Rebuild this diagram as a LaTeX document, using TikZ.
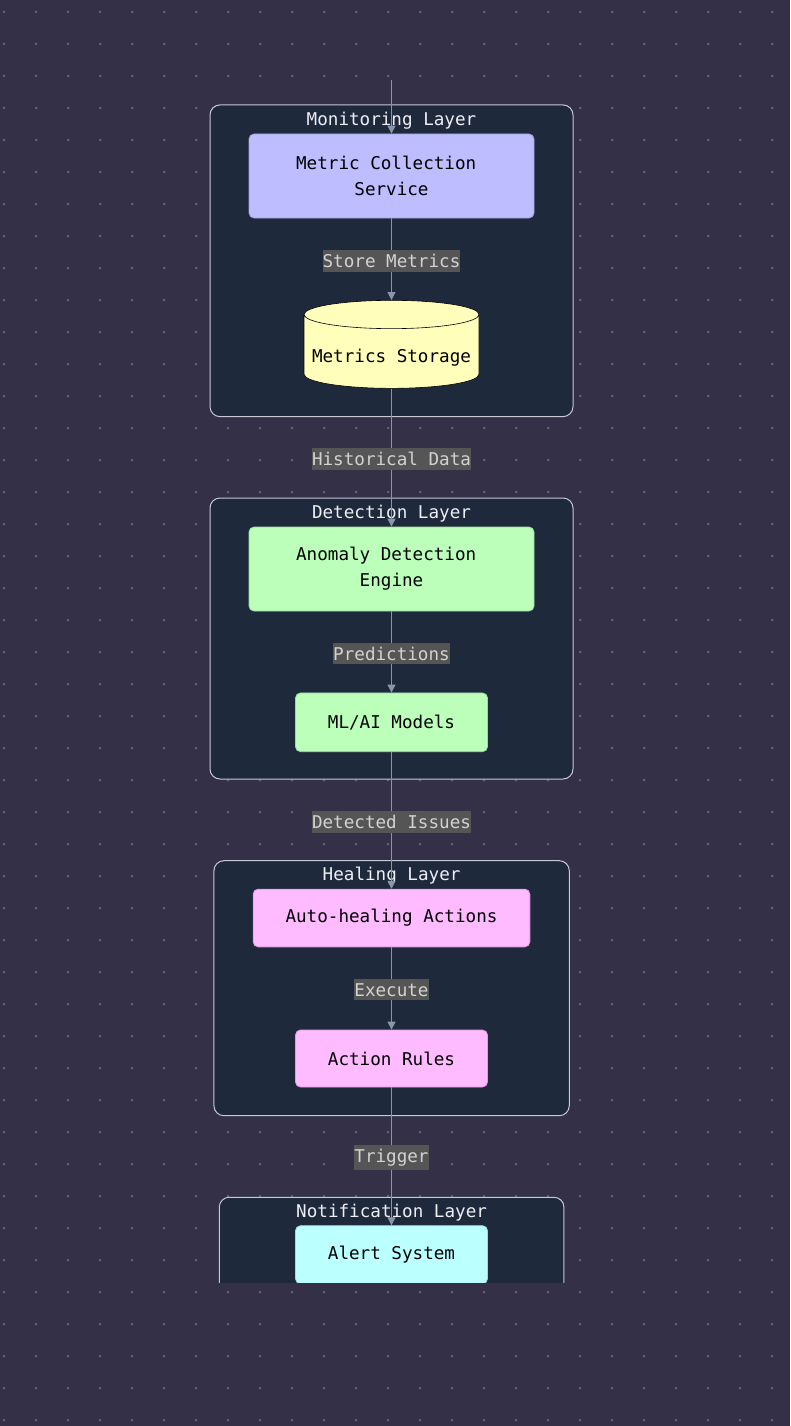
\documentclass[tikz,border=0pt]{standalone}
\usepackage{fontspec}
\setmonofont{DejaVu Sans Mono}
\usetikzlibrary{shapes}
\usetikzlibrary{positioning}
\usetikzlibrary{arrows.meta}
\definecolor{backcol}{RGB}{51,48,71}
\definecolor{dotcol}{RGB}{98,96,122}
\definecolor{layerfill}{RGB}{30,41,59}
\definecolor{layerline}{RGB}{200,200,215}
\definecolor{titletext}{RGB}{238,238,245}
\definecolor{labelfill}{RGB}{85,85,85}
\definecolor{labeltext}{RGB}{210,210,210}
\definecolor{arrowcol}{RGB}{136,150,172}
\definecolor{monfill}{RGB}{189,189,255}
\definecolor{storefill}{RGB}{255,255,187}
\definecolor{detfill}{RGB}{187,255,187}
\definecolor{healfill}{RGB}{255,187,255}
\definecolor{notefill}{RGB}{187,255,255}
\tikzset{
    layer/.style = {rectangle, rounded corners=10pt, draw=layerline, line width=1pt, fill=layerfill},
    layertitle/.style = {inner sep=0pt, text=titletext},
    cell/.style = {rectangle, rounded corners=5pt, line width=0.8pt, fill=#1, draw=#1!85!black, align=center},
    store/.style = {cylinder, shape border rotate=90, aspect=0.171, line width=0.6pt, draw=black, fill=storefill,
                    text height=22pt, text depth=4pt},
    edgen/.style = {-{Triangle[width=8pt,length=8pt]}, line width=1pt, arrowcol},
    edgelabel/.style = {fill=labelfill, text=labeltext, inner xsep=0pt, inner ysep=4pt, yshift=-1.5pt}
}

\begin{document}
\begin{tikzpicture}[x=1pt, y=-1pt,
  font=\ttfamily\fontsize{17.6pt}{26pt}\selectfont]
  \useasboundingbox (0,0) rectangle (790,1426);
  \fill[backcol] (0,0) rectangle (790,1426);
  \foreach \i in {0,...,24}
    \foreach \j in {0,...,44}
      \fill[dotcol] (4+32*\i,12+32*\j) circle (1.5pt);

  \begin{scope}
  \clip (0,0) rectangle (790,1282);
  % layers
  \node[layer, minimum width=363pt, minimum height=311.7pt] (monitoring) at (391.5,260.8) {};
  \node[layer, minimum width=363pt, minimum height=281pt] (detection) at (391.5,638.5) {};
  \node[layer, minimum width=355.3pt, minimum height=255pt] (healing) at (391.6,988.2) {};
  \node[layer, minimum width=344.7pt, minimum height=112.7pt] (notification) at (391.6,1253.6) {};
  \node[layertitle, below=7pt of monitoring.north] {Monitoring Layer};
  \node[layertitle, below=7pt of detection.north] {Detection Layer};
  \node[layertitle, below=7pt of healing.north] {Healing Layer};
  \node[layertitle, below=7pt of notification.north] {Notification Layer};

  % services
  \coordinate (in) at (391.5,80);
  \node[cell=monfill, minimum width=285pt, minimum height=84pt] (mc) at (391.5,176) {Metric Collection\hphantom{x}\\ Service};
  \node[store, minimum width=175pt, minimum height=88pt] (ms) at (391.5,353.5) {Metrics Storage};
  \node[cell=detfill, minimum width=285pt, minimum height=84pt] (ade) at (391.5,569) {Anomaly Detection\hphantom{x}\\ Engine};
  \node[cell=detfill, minimum width=192pt, minimum height=58.7pt] (ml) at (391.5,722.3) {ML/AI Models};
  \node[cell=healfill, minimum width=276.7pt, minimum height=57.7pt] (ah) at (391.5,918) {Auto-healing Actions};
  \node[cell=healfill, minimum width=192pt, minimum height=57pt] (ar) at (391.5,1058.5) {Action Rules};
  \node[cell=notefill, minimum width=192pt, minimum height=58pt] (alert) at (391.5,1254.7) {Alert System};

  \draw[edgen] (in) -- (mc);
  \draw[edgen] (mc) -- node[edgelabel] {Store Metrics} (ms);
  \draw[edgen] (ms) -- node[edgelabel] {Historical Data} (ade);
  \draw[edgen] (ade) -- node[edgelabel] {Predictions} (ml);
  \draw[edgen] (ml) -- node[edgelabel] {Detected Issues} (ah);
  \draw[edgen] (ah) -- node[edgelabel] {Execute} (ar);
  \draw[edgen] (ar) -- node[edgelabel] {Trigger} (alert);
  \end{scope}
\end{tikzpicture}
\end{document}
